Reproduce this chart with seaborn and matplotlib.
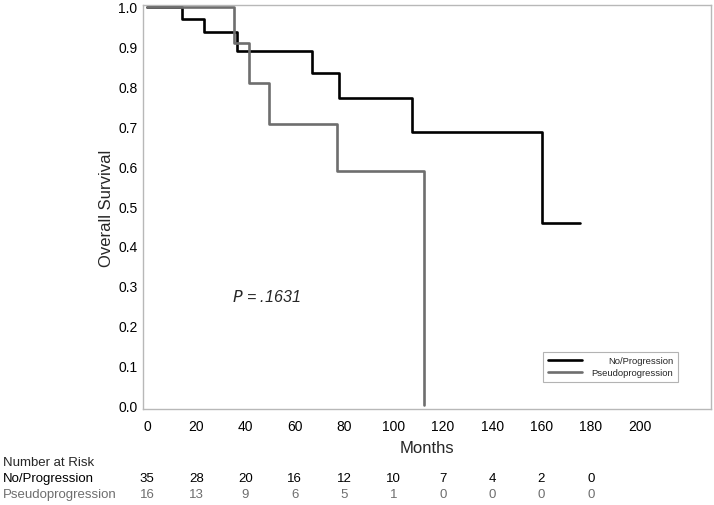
import numpy as np
import pandas as pd
import matplotlib
matplotlib.use("Agg")
import matplotlib.pyplot as plt
import matplotlib.transforms as mtransforms
from matplotlib.lines import Line2D
import seaborn as sns

# ---- data ----
groups = ["No/Progression", "Pseudoprogression"]
noprog_time = [0, 14.1, 23.1, 36.4, 66.8, 77.9, 107.4, 160.1, 175.7]
noprog_surv = [1.0, 0.971, 0.936, 0.890, 0.834, 0.771, 0.685, 0.457, 0.457]
pseudo_time = [0, 35.3, 41.4, 49.5, 77.2, 112.5]
pseudo_surv = [1.0, 0.909, 0.808, 0.707, 0.589, 0.0]

risk_times = [0, 20, 40, 60, 80, 100, 120, 140, 160, 180]
risk_noprog = [35, 28, 20, 16, 12, 10, 7, 4, 2, 0]
risk_pseudo = [16, 13, 9, 6, 5, 1, 0, 0, 0, 0]
x_ticks = [0, 20, 40, 60, 80, 100, 120, 140, 160, 180, 200]
y_ticks = [0.0, 0.1, 0.2, 0.3, 0.4, 0.5, 0.6, 0.7, 0.8, 0.9, 1.0]
p_text = ".1631"

colors = {"No/Progression": "#000000", "Pseudoprogression": "#6e6e6e"}

df = pd.concat([
    pd.DataFrame({"Months": noprog_time, "Survival": noprog_surv, "Group": groups[0]}),
    pd.DataFrame({"Months": pseudo_time, "Survival": pseudo_surv, "Group": groups[1]}),
], ignore_index=True)

sns.set_style("white")
plt.rcParams["font.family"] = ["Liberation Sans", "DejaVu Sans"]

W, H = 714, 506
fig = plt.figure(figsize=(W / 100, H / 100), dpi=100)
ax = fig.add_axes([143 / W, 1 - 410 / H, (711 - 143) / W, (410 - 6) / H])

sns.lineplot(data=df, x="Months", y="Survival", hue="Group", palette=colors,
             drawstyle="steps-post", estimator=None, sort=False, linewidth=1.9,
             ax=ax, legend=False)

ax.set_xlim(-1.6, 228.8)
ax.set_ylim(-0.01, 1.005)
ax.set_xticks(x_ticks)
ax.set_yticks(y_ticks)
ax.set_yticklabels([f"{v:.1f}" for v in y_ticks])
ax.tick_params(axis="both", direction="out", color="#b0b0b0", length=3,
               width=1, labelsize=10, labelcolor="black")
ax.tick_params(axis="x", pad=4)
ax.tick_params(axis="y", pad=1, length=3)
for s in ax.spines.values():
    s.set_color("#b8b8b8")
    s.set_linewidth(1.0)

ax.set_xlabel("Months", fontsize=12, labelpad=5)
ax.set_ylabel("Overall Survival", fontsize=12, labelpad=3)

# p-value annotation
ax.text(34.5, 0.274, r"$P$ = " + p_text, fontsize=11.5, style="italic",
        ha="left", va="center")

# legend: handles left, labels right-aligned
handles = [Line2D([], [], color=colors[g], lw=1.9) for g in groups]
leg = ax.legend(handles, groups, loc="lower right", bbox_to_anchor=(0.942, 0.067),
                borderaxespad=0, fontsize=6.8, frameon=True, fancybox=False,
                edgecolor="#a0a0a0", handlelength=3.6, borderpad=0.5,
                labelspacing=0.3, handletextpad=1.0)
leg.get_frame().set_linewidth(0.8)
fig.canvas.draw()
renderer = fig.canvas.get_renderer()
items = []
for col in leg._legend_handle_box.get_children():
    items.extend(col.get_children())
maxw = max(it.get_bbox(renderer).width for it in items)
for it in items:
    it.mode = "expand"
    it.width = maxw

# number at risk table
trans = mtransforms.blended_transform_factory(ax.transData, fig.transFigure)
fs = 9.5
fig.text(3 / W, 1 - 463 / H, "Number at Risk", fontsize=fs, va="center", ha="left")
fig.text(3 / W, 1 - 479 / H, groups[0], fontsize=fs, va="center", ha="left",
         color=colors[groups[0]])
fig.text(3 / W, 1 - 495 / H, groups[1], fontsize=fs, va="center", ha="left",
         color=colors[groups[1]])
for t, a, b in zip(risk_times, risk_noprog, risk_pseudo):
    ax.text(t, 1 - 479 / H, str(a), transform=trans, fontsize=fs, ha="center",
            va="center", color=colors[groups[0]], clip_on=False)
    ax.text(t, 1 - 495 / H, str(b), transform=trans, fontsize=fs, ha="center",
            va="center", color=colors[groups[1]], clip_on=False)

fig.savefig("out.png", dpi=100)
